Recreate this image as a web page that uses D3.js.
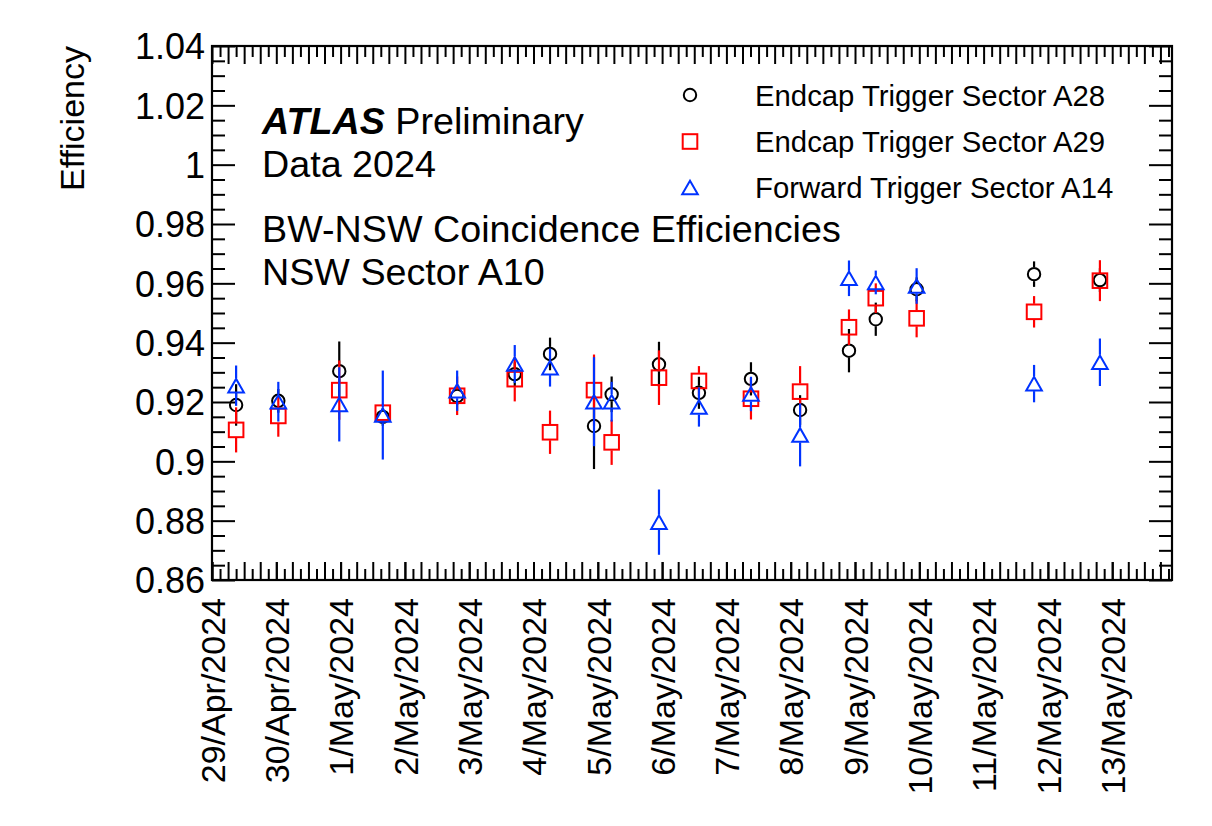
<!DOCTYPE html>
<html>
<head>
<meta charset="utf-8">
<script src="https://cdn.jsdelivr.net/npm/d3@7"></script>
<style>
  html, body { margin: 0; padding: 0; background: #fff; }
  svg { display: block; }
  text { font-family: "Liberation Sans", Arial, Helvetica, sans-serif; fill: #000; }
</style>
</head>
<body>
<svg id="chart" width="1212" height="826"></svg>
<script>
// ---- data ----
const dates = [
  "2024-04-29T09:00", "2024-04-30T00:45", "2024-04-30T23:30", "2024-05-01T15:45",
  "2024-05-02T19:30", "2024-05-03T17:00", "2024-05-04T06:10", "2024-05-04T22:35",
  "2024-05-05T05:10", "2024-05-05T22:50", "2024-05-06T13:45", "2024-05-07T09:10",
  "2024-05-08T03:30", "2024-05-08T21:45", "2024-05-09T07:45", "2024-05-09T23:00",
  "2024-05-11T18:50", "2024-05-12T19:25"
];
const effA28 = [0.9190, 0.9204, 0.9304, 0.9150, 0.9220, 0.9294, 0.9362, 0.9119, 0.9226,
                0.9327, 0.9231, 0.9278, 0.9173, 0.9373, 0.9479, 0.9580, 0.9631, 0.9611];
const errA28 = [0.0070, 0.0040, 0.0100, 0.0030, 0.0030, 0.0040, 0.0055, 0.0145, 0.0060,
                0.0076, 0.0054, 0.0056, 0.0050, 0.0073, 0.0056, 0.0040, 0.0043, 0.0040];
const effA29 = [0.9106, 0.9153, 0.9240, 0.9164, 0.9221, 0.9277, 0.9098, 0.9240, 0.9064,
                0.9282, 0.9271, 0.9211, 0.9235, 0.9452, 0.9550, 0.9482, 0.9504, 0.9609];
const errA29 = [0.0076, 0.0070, 0.0100, 0.0030, 0.0065, 0.0075, 0.0073, 0.0120, 0.0076,
                0.0092, 0.0050, 0.0070, 0.0086, 0.0060, 0.0050, 0.0064, 0.0053, 0.0069];
const effA14 = [0.9255, 0.9201, 0.9192, 0.9156, 0.9238, 0.9328, 0.9316, 0.9201, 0.9201,
                0.8795, 0.9183, 0.9227, 0.9089, 0.9617, 0.9603, 0.9591, 0.9262, 0.9334];
const errA14 = [0.0068, 0.0067, 0.0125, 0.0150, 0.0068, 0.0064, 0.0064, 0.0150, 0.0067,
                0.0110, 0.0066, 0.0058, 0.0106, 0.0060, 0.0040, 0.0060, 0.0063, 0.0080];

const seriesNames = ["Endcap Trigger Sector A28", "Endcap Trigger Sector A29", "Forward Trigger Sector A14"];
const xDomain = ["2024-04-29T00:00", "2024-05-13T22:19"];
const xTickDates = ["2024-04-29", "2024-04-30", "2024-05-01", "2024-05-02", "2024-05-03",
                    "2024-05-04", "2024-05-05", "2024-05-06", "2024-05-07", "2024-05-08",
                    "2024-05-09", "2024-05-10", "2024-05-11", "2024-05-12", "2024-05-13"];
const xTickLabels = ["29/Apr/2024", "30/Apr/2024", "1/May/2024", "2/May/2024", "3/May/2024",
                     "4/May/2024", "5/May/2024", "6/May/2024", "7/May/2024", "8/May/2024",
                     "9/May/2024", "10/May/2024", "11/May/2024", "12/May/2024", "13/May/2024"];
const yDomain = [0.86, 1.04];
const yTicks = [0.86, 0.88, 0.90, 0.92, 0.94, 0.96, 0.98, 1.00, 1.02, 1.04];
const yTickLabels = ["0.86", "0.88", "0.9", "0.92", "0.94", "0.96", "0.98", "1", "1.02", "1.04"];

// ---- layout ----
const L = 212, R = 1172, T = 46, B = 580;
const FONT = '"Liberation Sans", Arial, Helvetica, sans-serif';
const colors = ["#000000", "#ff0000", "#0033ff"];
const shapes = ["circle", "square", "triangle"];

const parseT = d3.utcParse("%Y-%m-%dT%H:%M");
const parseD = d3.utcParse("%Y-%m-%d");
const x = d3.scaleUtc().domain(xDomain.map(parseT)).range([L, R]);
const y = d3.scaleLinear().domain(yDomain).range([B, T]);

const svg = d3.select("#chart");

// minor values
const yMinor = d3.range(0, 37).map(i => +(0.86 + i * 0.005).toFixed(3)).filter(v => !yTicks.some(t => Math.abs(t - v) < 1e-6));
const allHours = d3.utcHour.every(3).range(x.domain()[0], x.domain()[1]);
const xMed = allHours.filter(d => d.getUTCHours() % 6 === 0);
const xMin = allHours.filter(d => d.getUTCHours() % 6 !== 0);

function styleTicks(g) {
  g.select(".domain").remove();
  g.selectAll(".tick line").attr("stroke", "#000").attr("stroke-width", 2);
}

// left axis major with labels
svg.append("g").attr("transform", `translate(${L},0)`)
  .call(d3.axisLeft(y).tickValues(yTicks).tickSize(-23).tickPadding(7)
        .tickFormat((d, i) => yTickLabels[i]))
  .call(styleTicks)
  .selectAll("text").style("font-family", FONT).style("font-size", "36px").attr("dy", "0.36em");
// left minor
svg.append("g").attr("transform", `translate(${L},0)`)
  .call(d3.axisLeft(y).tickValues(yMinor).tickSize(-13).tickFormat(""))
  .call(styleTicks);
// right axis
svg.append("g").attr("transform", `translate(${R},0)`)
  .call(d3.axisRight(y).tickValues(yTicks).tickSize(-23).tickFormat(""))
  .call(styleTicks);
svg.append("g").attr("transform", `translate(${R},0)`)
  .call(d3.axisRight(y).tickValues(yMinor).tickSize(-13).tickFormat(""))
  .call(styleTicks);

// bottom axis: labels at days
const xLab = svg.append("g").attr("transform", `translate(0,${B})`)
  .call(d3.axisBottom(x).tickValues(xTickDates.map(parseD)).tickSize(-18)
        .tickFormat((d, i) => xTickLabels[i]))
  .call(styleTicks);
xLab.selectAll("text")
  .style("font-family", FONT).style("font-size", "34px")
  .style("text-anchor", "end")
  .attr("transform", "rotate(-90)")
  .attr("x", -18).attr("y", 0).attr("dy", "0.36em");
svg.append("g").attr("transform", `translate(0,${B})`)
  .call(d3.axisBottom(x).tickValues(xMed).tickSize(-18).tickFormat(""))
  .call(styleTicks);
svg.append("g").attr("transform", `translate(0,${B})`)
  .call(d3.axisBottom(x).tickValues(xMin).tickSize(-11).tickFormat(""))
  .call(styleTicks);
// top axis
svg.append("g").attr("transform", `translate(0,${T})`)
  .call(d3.axisTop(x).tickValues(xMed).tickSize(-18).tickFormat(""))
  .call(styleTicks);
svg.append("g").attr("transform", `translate(0,${T})`)
  .call(d3.axisTop(x).tickValues(xMin).tickSize(-11).tickFormat(""))
  .call(styleTicks);

// frame
svg.append("rect").attr("x", L).attr("y", T).attr("width", R - L).attr("height", B - T)
  .attr("fill", "none").attr("stroke", "#000").attr("stroke-width", 2.2);

// y-axis title
svg.append("text")
  .attr("transform", `translate(84,${T}) rotate(-90)`)
  .attr("text-anchor", "end")
  .style("font-size", "34px")
  .text("Efficiency");

// marker drawing
const gap = { circle: 7, square: 8, triangle: 7.5 };
function drawMarker(g, shape, cx, cy, color) {
  if (shape === "circle") {
    g.append("circle").attr("cx", cx).attr("cy", cy).attr("r", 6.2)
      .attr("fill", "none").attr("stroke", color).attr("stroke-width", 2);
  } else if (shape === "square") {
    g.append("rect").attr("x", cx - 7.3).attr("y", cy - 7.3).attr("width", 14.6).attr("height", 14.6)
      .attr("fill", "none").attr("stroke", color).attr("stroke-width", 2);
  } else {
    const w = 7.8, h = 6.8;
    g.append("path").attr("d", `M${cx - w},${cy + h}L${cx + w},${cy + h}L${cx},${cy - h}Z`)
      .attr("fill", "none").attr("stroke", color).attr("stroke-width", 2).attr("stroke-linejoin", "miter");
  }
}

const allSeries = [
  { vals: effA28, errs: errA28 },
  { vals: effA29, errs: errA29 },
  { vals: effA14, errs: errA14 }
];
const plot = svg.append("g");
allSeries.forEach((s, si) => {
  const g = plot.append("g");
  const col = colors[si], sh = shapes[si], gp = gap[sh];
  dates.forEach((ds, i) => {
    const cx = x(parseT(ds)), cy = y(s.vals[i]);
    const yTop = y(s.vals[i] + s.errs[i]), yBot = y(s.vals[i] - s.errs[i]);
    if (cy - gp > yTop)
      g.append("line").attr("x1", cx).attr("x2", cx).attr("y1", yTop).attr("y2", cy - gp)
        .attr("stroke", col).attr("stroke-width", 2.2);
    if (yBot > cy + gp)
      g.append("line").attr("x1", cx).attr("x2", cx).attr("y1", cy + gp).attr("y2", yBot)
        .attr("stroke", col).attr("stroke-width", 2.2);
    drawMarker(g, sh, cx, cy, col);
  });
});

// labels
const lab = svg.append("g").style("font-size", "37.7px");
const t1 = lab.append("text").attr("x", 262).attr("y", 134);
t1.append("tspan").style("font-weight", "bold").style("font-style", "italic").text("ATLAS");
t1.append("tspan").text(" Preliminary");
lab.append("text").attr("x", 262).attr("y", 177).text("Data 2024");
lab.append("text").attr("x", 262).attr("y", 242).text("BW-NSW Coincidence Efficiencies");
lab.append("text").attr("x", 262).attr("y", 285).text("NSW Sector A10");

// legend
const legY = [95, 141.5, 187.5];
const leg = svg.append("g");
seriesNames.forEach((name, i) => {
  drawMarker(leg, shapes[i], 690, legY[i], colors[i]);
  leg.append("text").attr("x", 755).attr("y", legY[i] + 10.5)
    .style("font-size", "29.3px").text(name);
});
</script>
</body>
</html>
